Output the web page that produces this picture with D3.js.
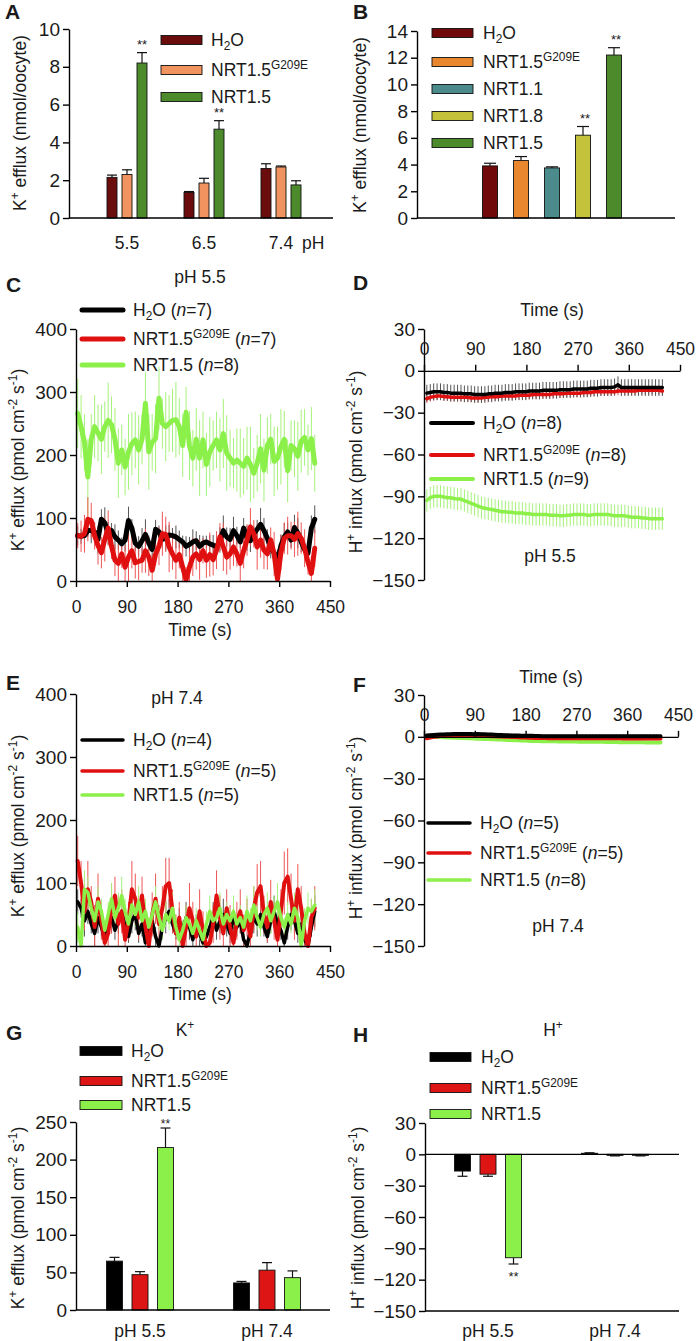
<!DOCTYPE html>
<html><head><meta charset="utf-8">
<script src="https://cdn.jsdelivr.net/npm/d3@7"></script>
<style>
body{margin:0;background:#fff}
text{font-family:"Liberation Sans",Arial,Helvetica,sans-serif;fill:#1a1a1a}
</style></head>
<body><svg id="c" width="697" height="1341"></svg>
<script>
// ================= DATA =================
// Panel A
const phGroupsA = ["5.5","6.5","7.4"];
const aH2O = [2.15,1.35,2.62];   const aH2OErr = [0.12,0.05,0.25];
const aG209E = [2.3,1.85,2.7];   const aG209EErr = [0.25,0.25,0.05];
const aNRT15 = [8.2,4.7,1.75];   const aNRT15Err = [0.55,0.45,0.22];
const aSig = ["**","**",""];
const aTicks = [0,2,4,6,8,10];
// Panel B
const bCats = ["H2O","NRT1.5G209E","NRT1.1","NRT1.8","NRT1.5"];
const bVals = [3.9,4.3,3.75,6.2,12.2];
const bErr = [0.2,0.3,0.08,0.65,0.55];
const bSig = ["","","","**","**"];
const bTicks = [0,2,4,6,8,10,12,14];
// Time series common
const timeTicks = [0,90,180,270,360,450];
const kTicks = [0,100,200,300,400];
const hTicks = [30,0,-30,-60,-90,-120,-150];
// Panel C (pH 5.5, K+), t = 3..423 s every 6 s
const cH2O = [72,71,72,80,80,78,66,98,92,76,80,70,65,59,65,96,84,60,55,64,74,60,50,82,78,66,68,73,72,70,66,62,55,58,62,64,55,60,62,59,57,54,65,80,70,66,80,72,62,84,68,64,75,82,90,80,68,52,45,30,56,70,78,65,85,76,62,50,44,84,98];
const cG209E = [72,71,75,98,96,72,56,45,66,84,55,33,28,43,22,38,48,29,31,33,48,38,17,43,55,75,74,54,43,33,42,22,2,22,38,43,34,48,33,42,34,49,70,54,38,43,54,43,28,48,65,86,75,54,65,49,43,65,43,3,45,68,72,72,66,75,68,52,30,12,52];
const cNRT15 = [266,245,220,165,225,245,235,225,245,255,248,225,187,208,181,205,218,224,208,225,282,205,220,226,290,250,245,250,255,256,245,215,268,215,195,225,195,224,185,205,215,224,208,234,203,195,187,192,187,182,195,185,171,187,210,176,215,225,190,195,213,225,175,215,210,198,222,228,208,226,187];
const cH2OErr = [15,12,18,10,20,14,22,16,25,18,12,20,15,10,18,22,14,12,16,20,24,12,18,15,10,14,20,16,12,18,14,10,16,12,20,15,18,12,10,14,16,12,20,24,15,18,22,14,10,16,20,18,12,15,26,20,14,16,10,20,18,22,15,12,20,24,16,14,18,20,22];
const cG209EErr = [20,25,30,35,28,22,30,25,35,28,20,25,30,22,35,40,28,25,30,20,35,30,25,18,30,35,28,40,25,30,22,35,20,28,30,25,32,20,28,35,25,30,22,38,28,25,30,20,35,28,25,30,22,36,28,30,25,20,35,40,28,25,30,22,28,35,25,30,20,28,30];
const cNRT15Err = [55,50,45,60,40,50,45,55,40,60,45,50,55,40,45,60,50,45,55,40,50,60,45,55,50,40,55,45,50,60,45,50,40,55,45,50,60,45,50,55,40,45,50,55,60,45,40,50,55,45,50,60,40,45,55,50,45,40,55,50,60,45,50,40,45,55,50,45,40,50,45];
const nC = [7,7,8];
// Panel D (pH 5.5, H+), t = 5..419 s every 6 s
const dH2O = [-16,-15.5,-15,-15,-15,-15.5,-15.5,-16,-16,-16,-16,-16.5,-16.5,-16.5,-17,-17,-17,-17,-16.5,-16.5,-16,-16,-16,-15.5,-15.5,-15.5,-15,-15,-15,-15,-14.5,-14.5,-14.5,-14.5,-14,-14,-14,-14,-14,-13.5,-13.5,-13.5,-13.5,-13,-13,-13,-13,-13,-12.5,-12.5,-12.5,-12,-12,-12,-12,-11.5,-10,-12,-12,-12,-12,-12,-12,-12,-12,-12,-12,-12,-12,-12];
const dG209E = [-20,-19,-18.5,-18,-18,-18.5,-18.5,-19,-19,-19,-19,-19,-19,-19.5,-19.5,-19.5,-19.5,-19,-19,-18.5,-18.5,-18.5,-18,-18,-18,-18,-18,-17.5,-17.5,-17.5,-17.5,-17,-17,-17,-17,-17,-17,-16.5,-16.5,-16.5,-16.5,-16,-16,-16,-16,-16,-15.5,-15.5,-15.5,-15,-15,-15,-15,-15,-15,-15,-14.5,-14.5,-14.5,-14.5,-14.5,-14.5,-14,-14,-14,-14,-14,-14,-14,-14.5];
const dNRT15 = [-93,-91,-90,-90,-90,-90.5,-91,-91,-91.5,-92,-92,-93,-94,-95,-96,-97,-98,-98.5,-99,-99.5,-100,-100.5,-101,-101,-101.5,-101.5,-102,-102,-102,-102.5,-102.5,-103,-103,-103,-103,-103,-103.5,-103.5,-103.5,-104,-104,-103.5,-103.5,-103,-103,-103,-103,-103.5,-103.5,-103,-103,-103,-103,-103,-103.5,-104,-104,-104,-104,-104.5,-105,-105,-105,-105.5,-105.5,-106,-106,-106,-106,-106];
const dErr = [6,3,8];
const nD = [8,8,9];
// Panel E (pH 7.4, K+), t = 3..423 s every 6 s
const eH2O = [70,60,40,55,35,20,45,30,10,35,45,25,40,55,30,15,40,50,20,35,5,25,40,15,0,30,45,55,35,20,40,25,45,30,10,35,20,5,15,30,45,25,40,50,35,20,45,30,40,10,0,25,45,35,50,30,15,40,55,35,25,5,30,50,40,20,35,10,0,30,55];
const eG209E = [135,100,55,90,70,30,75,40,5,20,60,80,35,55,10,40,90,75,45,80,30,0,50,75,35,60,95,100,55,20,45,0,30,60,40,15,55,25,0,5,35,80,45,20,60,30,5,40,55,25,45,15,60,85,95,50,30,70,40,10,55,100,110,75,40,90,60,20,0,45,60];
const eNRT15 = [30,0,90,85,60,40,70,55,25,50,75,45,60,80,55,35,65,50,70,40,55,30,50,70,45,25,50,40,60,30,10,25,45,35,20,40,25,10,35,55,40,45,60,35,50,40,55,35,45,30,55,40,65,45,30,50,60,40,55,70,45,30,50,35,60,45,0,40,60,55,65];
const eH2OErr = [20,15,25,20,15,20,25,15,10,20,25,15,20,25,15,10,20,25,15,20,10,15,20,15,10,20,25,20,15,10,20,15,25,20,10,15,20,10,15,20,25,15,20,25,20,15,20,15,20,10,10,15,25,20,25,15,10,20,25,20,15,10,20,25,20,15,20,10,10,15,25];
const eG209EErr = [40,35,30,45,25,35,40,30,25,35,40,30,45,35,25,30,45,40,35,30,25,20,35,40,30,35,45,40,35,30,25,20,35,40,30,25,35,30,20,25,30,40,35,25,30,35,20,30,35,25,30,25,35,45,40,30,25,35,30,25,35,50,45,40,30,40,35,25,20,30,35];
const eNRT15Err = [25,20,30,25,20,15,25,20,15,20,25,20,25,30,20,15,25,20,25,15,20,15,20,25,20,15,20,15,25,15,10,15,20,15,10,20,15,10,20,25,20,20,25,15,20,20,25,15,20,15,25,20,30,20,15,20,25,20,25,30,20,15,20,15,25,20,10,20,25,20,25];
const nE = [4,5,5];
// Panel F (pH 7.4, H+), t = 5..419 s every 6 s
const fH2O = [1,1.2,1.4,1.5,1.6,1.7,1.8,1.9,2,2,2.1,2,2,2,1.9,2,1.9,1.8,1.7,1.6,1.5,1.4,1.3,1.2,1.1,1,1,0.9,0.8,0.8,0.7,0.7,0.6,0.6,0.5,0.5,0.5,0.5,0.4,0.4,0.4,0.4,0.4,0.4,0.4,0.4,0.5,0.5,0.5,0.5,0.5,0.5,0.5,0.5,0.5,0.5,0.5,0.5,0.5,0.5,0.5,0.5,0.5,0.5,0.5,0.5,0.5,0.5,0.5,0.5];
const fG209E = [-1,-0.5,0,0.3,0.6,0.8,1,1.1,1.2,1.2,1.2,1.2,1.1,1,1,0.9,0.8,0.7,0.6,0.5,0.4,0.3,0.2,0.1,0,-0.1,-0.2,-0.3,-0.4,-0.5,-0.6,-0.7,-0.8,-0.8,-0.9,-0.9,-1,-1,-1,-1,-1.1,-1.1,-1.1,-1.1,-1.1,-1.1,-1.1,-1.1,-1.1,-1.1,-1.1,-1.1,-1.1,-1.1,-1.1,-1.1,-1.1,-1.1,-1.2,-1.2,-1.2,-1.2,-1.2,-1.2,-1.2,-1.2,-1.2,-1.2,-1.2,-1.2];
const fNRT15 = [0,0,0,-0.1,-0.2,-0.3,-0.4,-0.5,-0.6,-0.7,-0.8,-0.9,-1,-1.1,-1.2,-1.3,-1.4,-1.5,-1.6,-1.7,-1.8,-1.9,-2,-2.1,-2.2,-2.3,-2.4,-2.5,-2.6,-2.7,-2.8,-2.9,-3,-3,-3.1,-3.1,-3.2,-3.2,-3.2,-3.3,-3.3,-3.3,-3.4,-3.4,-3.4,-3.5,-3.5,-3.5,-3.5,-3.6,-3.6,-3.6,-3.6,-3.7,-3.7,-3.7,-3.7,-3.8,-3.8,-3.8,-3.8,-3.9,-3.9,-3.9,-3.9,-4,-4,-4,-4,-4];
const fErr = [1.2,1,1.2];
const nF = [5,5,8];
// Panel G (K+ mean flux)
const phGroupsGH = ["pH 5.5","pH 7.4"];
const gH2O = [65,36];   const gH2OErr = [5,2];
const gG209E = [47,53]; const gG209EErr = [4,10];
const gNRT15 = [216,43]; const gNRT15Err = [26,9];
const gSig = ["**",""];
const gTicks = [0,50,100,150,200,250];
// Panel H (H+ mean flux)
const hH2O = [-16,1];   const hH2OErr = [5,0.5];
const hG209E = [-19,-1]; const hG209EErr = [2,0.5];
const hNRT15 = [-99,-1]; const hNRT15Err = [6,0.5];
const hSig = ["**",""];

// ================= HELPERS =================
const svg = d3.select("#c");
const FONT = "'Liberation Sans', Arial, Helvetica, sans-serif";
const TXT = "#1a1a1a";
const LF = 17.5;   // legend / label font
const YF = 19;     // y tick font
const XF = 17.5;   // x tick font

function rich(g, x, y, parts, size, anchor){
  const t = g.append("text").attr("x",x).attr("y",y).attr("font-size",size)
    .attr("text-anchor",anchor||"start");
  let shift = 0;
  parts.forEach(p=>{
    const s = p[0], type = p[1]||"";
    let target = 0, fs = size;
    if(type==="sup"){ target = -size*0.42; fs = size*0.68; }
    if(type==="sub"){ target = size*0.22; fs = size*0.68; }
    const ts = t.append("tspan").text(s).attr("dy", (target-shift).toFixed(2));
    if(fs!==size) ts.attr("font-size", fs.toFixed(2));
    if(type==="it") ts.attr("font-style","italic");
    shift = target;
  });
  return t;
}
function vtitle(cx, cy, parts, size){
  const g = svg.append("g").attr("transform",`translate(${cx},${cy}) rotate(-90)`);
  rich(g,0,0,parts,size||LF,"middle");
}
function styleAxis(g, fs){
  g.attr("font-family",FONT).attr("font-size",fs);
  g.selectAll("path.domain").attr("stroke","#000").attr("stroke-width",1.4);
  g.selectAll(".tick line").attr("stroke","#000").attr("stroke-width",1.4);
  g.selectAll(".tick text").attr("fill",TXT);
}
function hline(x1,x2,y){ svg.append("line").attr("x1",x1).attr("x2",x2).attr("y1",y).attr("y2",y).attr("stroke","#000").attr("stroke-width",1.4); }
function label(x,y,s,size,opts){
  const t = svg.append("text").attr("x",x).attr("y",y).attr("font-size",size).text(s);
  if(opts&&opts.bold) t.attr("font-weight","bold");
  if(opts&&opts.anchor) t.attr("text-anchor",opts.anchor);
  return t;
}
function bar(g, cx, w, v, e, y, fill, capW){
  const y0 = y(0), y1 = y(v);
  g.append("rect").attr("x",cx-w/2).attr("y",Math.min(y0,y1)).attr("width",w)
    .attr("height",Math.max(0.8,Math.abs(y1-y0))).attr("fill",fill)
    .attr("stroke","#111").attr("stroke-width",0.9);
  if(e>0){
    const ye = y(v + (v>=0?e:-e));
    g.append("line").attr("x1",cx).attr("x2",cx).attr("y1",y1).attr("y2",ye).attr("stroke","#111").attr("stroke-width",1.2);
    g.append("line").attr("x1",cx-capW/2).attr("x2",cx+capW/2).attr("y1",ye).attr("y2",ye).attr("stroke","#111").attr("stroke-width",1.2);
  }
}
const lblH2O = [["H"],["2","sub"],["O"]];
const lblG209E = [["NRT1.5"],["G209E","sup"]];
const lblNRT15 = [["NRT1.5"]];
const withN = (parts,n)=>parts.concat([[" ("],["n","it"],["="+n+")"]]);
const kTitleNmol = [["K"],["+","sup"],[" efflux (nmol/oocyte)"]];
const kTitlePmol = [["K"],["+","sup"],[" efflux (pmol cm"],["-2","sup"],[" s"],["-1","sup"],[")"]];
const hTitlePmol = [["H"],["+","sup"],[" influx (pmol cm"],["-2","sup"],[" s"],["-1","sup"],[")"]];

// ================= PANEL A =================
(function(){
  const cols = ["#6b0d0d","#f0935e","#4c8a2c"];
  const vals = [aH2O,aG209E,aNRT15], errs = [aH2OErr,aG209EErr,aNRT15Err];
  const x = d3.scalePoint().domain(phGroupsA).range([127,281]);
  const off = d3.scalePoint().domain([0,1,2]).range([-15,15]);
  const y = d3.scaleLinear().domain([0,10]).range([218,29]);
  const g = svg.append("g");
  phGroupsA.forEach((p,i)=>{
    vals.forEach((s,si)=> bar(g, x(p)+off(si), 10, s[i], errs[si][i], y, cols[si], 10));
    if(aSig[i]) label(x(p)+off(2), y(aNRT15[i]+aNRT15Err[i])-4, aSig[i], 13, {anchor:"middle"});
    label(x(p), 249, p, XF, {anchor:"middle"});
  });
  label(302, 249, "pH", XF);
  const ya = svg.append("g").attr("transform","translate(69,0)")
    .call(d3.axisLeft(y).tickValues(aTicks).tickSize(6).tickPadding(3).tickSizeOuter(0));
  styleAxis(ya, YF);
  hline(69,333,218);
  vtitle(26,123,kTitleNmol,LF);
  label(5,19,"A",21,{bold:true});
  const legs = [lblH2O,lblG209E,lblNRT15], ly = [40,70,97];
  legs.forEach((l,i)=>{
    svg.append("rect").attr("x",161).attr("y",ly[i]-4.5).attr("width",41).attr("height",9)
      .attr("fill",cols[i]).attr("stroke","#111").attr("stroke-width",0.9);
    rich(svg,211,ly[i]+6,l,LF);
  });
})();

// ================= PANEL B =================
(function(){
  const cols = ["#700a0a","#e9872e","#4b8b8b","#c3c23a","#4d8a2b"];
  const x = d3.scalePoint().domain(bCats).range([490,614]);
  const y = d3.scaleLinear().domain([0,14]).range([218,31]);
  const g = svg.append("g");
  bCats.forEach((c,i)=>{
    bar(g, x(c), 15, bVals[i], bErr[i], y, cols[i], 12);
    if(bSig[i]) label(x(c)+2, y(bVals[i]+bErr[i])-4, bSig[i], 13, {anchor:"middle"});
  });
  const ya = svg.append("g").attr("transform","translate(417,0)")
    .call(d3.axisLeft(y).tickValues(bTicks).tickSize(6).tickPadding(3).tickSizeOuter(0));
  styleAxis(ya, YF);
  hline(417,675,218);
  vtitle(366,125,kTitleNmol,LF);
  label(353,19,"B",21,{bold:true});
  const legs = [lblH2O,lblG209E,[["NRT1.1"]],[["NRT1.8"]],lblNRT15], ly=[33,62,89,116,143];
  legs.forEach((l,i)=>{
    svg.append("rect").attr("x",432).attr("y",ly[i]-4.5).attr("width",41).attr("height",9)
      .attr("fill",cols[i]).attr("stroke","#111").attr("stroke-width",0.9);
    rich(svg,483,ly[i]+6,l,LF);
  });
})();

// ================= TIME SERIES HELPER =================
function series(g, x, y, t0, step, vals, errs, color, errColor, lw){
  const lo = y.domain()[0], hi = y.domain()[1];
  const eg = g.append("g");
  vals.forEach((v,i)=>{
    const e = Array.isArray(errs) ? (errs[i]||0) : errs;
    const t = t0 + i*step;
    eg.append("line").attr("x1",x(t)).attr("x2",x(t))
      .attr("y1",y(Math.max(lo,v-e))).attr("y2",y(Math.min(hi,v+e)))
      .attr("stroke",errColor).attr("stroke-width",1);
  });
  return ()=>g.append("path").datum(vals)
    .attr("d",d3.line().x((d,i)=>x(t0+i*step)).y(d=>y(d)))
    .attr("fill","none").attr("stroke",color).attr("stroke-width",lw)
    .attr("stroke-linejoin","round").attr("stroke-linecap","round");
}
const LC = ["#000000","#e01010","#8cf04a"];
const EC = ["#555555","#ee5555","#a6f27a"];

// ================= PANEL C =================
(function(){
  const x = d3.scaleLinear().domain([0,450]).range([76,330]);
  const y = d3.scaleLinear().domain([0,400]).range([581,329]);
  const g = svg.append("g");
  const dG = series(g,x,y,3,6,cNRT15,cNRT15Err,LC[2],EC[2],5);
  const dB = series(g,x,y,3,6,cH2O,cH2OErr,LC[0],EC[0],5);
  const dR = series(g,x,y,3,6,cG209E,cG209EErr,LC[1],EC[1],5);
  dG(); dB(); dR();
  const ya = svg.append("g").attr("transform","translate(76,0)")
    .call(d3.axisLeft(y).tickValues(kTicks).tickSize(6).tickPadding(3).tickSizeOuter(0));
  styleAxis(ya, YF);
  const xa = svg.append("g").attr("transform","translate(0,581)")
    .call(d3.axisBottom(x).tickValues(timeTicks).tickSize(6).tickPadding(14).tickSizeOuter(0));
  styleAxis(xa, XF);
  label(200,636,"Time (s)",LF,{anchor:"middle"});
  label(200,283,"pH 5.5",LF,{anchor:"middle"});
  vtitle(24,460,kTitlePmol,LF);
  label(6,292,"C",21,{bold:true});
  const legs=[lblH2O,lblG209E,lblNRT15], ly=[310,339,365];
  legs.forEach((l,i)=>{
    svg.append("line").attr("x1",82).attr("x2",123).attr("y1",ly[i]).attr("y2",ly[i])
      .attr("stroke",LC[i]).attr("stroke-width",5).attr("stroke-linecap","round");
    rich(svg,133,ly[i]+6,withN(l,nC[i]),LF);
  });
})();

// ================= PANEL D =================
(function(){
  const x = d3.scaleLinear().domain([0,450]).range([424,680]);
  const y = d3.scaleLinear().domain([-150,30]).range([580,329]);
  const g = svg.append("g");
  const dG = series(g,x,y,5,6,dNRT15,dErr[2],LC[2],EC[2],3.5);
  const dR = series(g,x,y,5,6,dG209E,dErr[1],LC[1],EC[1],3.5);
  const dB = series(g,x,y,5,6,dH2O,dErr[0],LC[0],EC[0],3.5);
  dG(); dR(); dB();
  const ya = svg.append("g").attr("transform","translate(424,0)")
    .call(d3.axisLeft(y).tickValues(hTicks).tickSize(6).tickPadding(3).tickSizeOuter(0));
  styleAxis(ya, YF);
  const xa = svg.append("g").attr("transform",`translate(0,${y(0)})`)
    .call(d3.axisTop(x).tickValues(timeTicks).tickSize(6).tickPadding(10).tickSizeOuter(0));
  styleAxis(xa, XF);
  label(552,316,"Time (s)",LF,{anchor:"middle"});
  label(550,562,"pH 5.5",LF,{anchor:"middle"});
  vtitle(362,462,hTitlePmol,LF);
  label(353,290,"D",21,{bold:true});
  const legs=[lblH2O,lblG209E,lblNRT15], ly=[423,455,479];
  legs.forEach((l,i)=>{
    svg.append("line").attr("x1",431).attr("x2",473).attr("y1",ly[i]).attr("y2",ly[i])
      .attr("stroke",LC[i]).attr("stroke-width",4).attr("stroke-linecap","round");
    rich(svg,483,ly[i]+6,withN(l,nD[i]),LF);
  });
})();

// ================= PANEL E =================
(function(){
  const x = d3.scaleLinear().domain([0,450]).range([76,330]);
  const y = d3.scaleLinear().domain([0,400]).range([946,694]);
  const g = svg.append("g");
  const dB = series(g,x,y,3,6,eH2O,eH2OErr,LC[0],EC[0],3.5);
  const dR = series(g,x,y,3,6,eG209E,eG209EErr,LC[1],EC[1],4);
  const dG = series(g,x,y,3,6,eNRT15,eNRT15Err,LC[2],EC[2],3.5);
  dB(); dR(); dG();
  const ya = svg.append("g").attr("transform","translate(76,0)")
    .call(d3.axisLeft(y).tickValues(kTicks).tickSize(6).tickPadding(3).tickSizeOuter(0));
  styleAxis(ya, YF);
  const xa = svg.append("g").attr("transform","translate(0,946)")
    .call(d3.axisBottom(x).tickValues(timeTicks).tickSize(6).tickPadding(14).tickSizeOuter(0));
  styleAxis(xa, XF);
  label(200,1000,"Time (s)",LF,{anchor:"middle"});
  label(177,704,"pH 7.4",LF,{anchor:"middle"});
  vtitle(24,826,kTitlePmol,LF);
  label(6,690,"E",21,{bold:true});
  const legs=[lblH2O,lblG209E,lblNRT15], ly=[740,771,795];
  legs.forEach((l,i)=>{
    svg.append("line").attr("x1",82).attr("x2",123).attr("y1",ly[i]).attr("y2",ly[i])
      .attr("stroke",LC[i]).attr("stroke-width",3.5).attr("stroke-linecap","round");
    rich(svg,133,ly[i]+6,withN(l,nE[i]),LF);
  });
})();

// ================= PANEL F =================
(function(){
  const x = d3.scaleLinear().domain([0,450]).range([424,678]);
  const y = d3.scaleLinear().domain([-150,30]).range([946,695]);
  const g = svg.append("g");
  const dG = series(g,x,y,5,6,fNRT15,fErr[2],LC[2],EC[2],4);
  const dR = series(g,x,y,5,6,fG209E,fErr[1],LC[1],EC[1],4);
  const dB = series(g,x,y,5,6,fH2O,fErr[0],LC[0],EC[0],4);
  dG(); dR(); dB();
  const ya = svg.append("g").attr("transform","translate(424,0)")
    .call(d3.axisLeft(y).tickValues(hTicks).tickSize(6).tickPadding(3).tickSizeOuter(0));
  styleAxis(ya, YF);
  const xa = svg.append("g").attr("transform",`translate(0,${y(0)})`)
    .call(d3.axisTop(x).tickValues(timeTicks).tickSize(6).tickPadding(10).tickSizeOuter(0));
  styleAxis(xa, XF);
  label(551,683,"Time (s)",LF,{anchor:"middle"});
  label(558,932,"pH 7.4",LF,{anchor:"middle"});
  vtitle(362,828,hTitlePmol,LF);
  label(353,692,"F",21,{bold:true});
  const legs=[lblH2O,lblG209E,lblNRT15], ly=[823,853,880];
  legs.forEach((l,i)=>{
    svg.append("line").attr("x1",428).attr("x2",470).attr("y1",ly[i]).attr("y2",ly[i])
      .attr("stroke",LC[i]).attr("stroke-width",3.5).attr("stroke-linecap","round");
    rich(svg,480,ly[i]+6,withN(l,nF[i]),LF);
  });
})();

// ================= PANEL G =================
const BC = ["#000000","#dd1515","#8cf04a"];
(function(){
  const vals=[gH2O,gG209E,gNRT15], errs=[gH2OErr,gG209EErr,gNRT15Err];
  const x = d3.scalePoint().domain(phGroupsGH).range([140,267]);
  const off = d3.scalePoint().domain([0,1,2]).range([-25.5,25.5]);
  const y = d3.scaleLinear().domain([0,250]).range([1310,1122]);
  const g = svg.append("g");
  phGroupsGH.forEach((p,i)=>{
    vals.forEach((s,si)=> bar(g, x(p)+off(si), 16, s[i], errs[si][i], y, BC[si], 10));
    if(gSig[i]) label(x(p)+off(2), y(gNRT15[i]+gNRT15Err[i]), gSig[i], 12, {anchor:"middle"});
    label(x(p), 1337, p, XF, {anchor:"middle"});
  });
  const ya = svg.append("g").attr("transform","translate(76,0)")
    .call(d3.axisLeft(y).tickValues(gTicks).tickSize(6).tickPadding(3).tickSizeOuter(0));
  styleAxis(ya, YF);
  hline(76,330,1310);
  vtitle(24,1218,kTitlePmol,LF);
  label(6,1040,"G",21,{bold:true});
  rich(svg,185,1036,[["K"],["+","sup"]],LF,"middle");
  const legs=[lblH2O,lblG209E,lblNRT15], ly=[1051,1081,1105];
  legs.forEach((l,i)=>{
    svg.append("rect").attr("x",80).attr("y",ly[i]-4.5).attr("width",42).attr("height",9)
      .attr("fill",BC[i]).attr("stroke","#111").attr("stroke-width",0.9);
    rich(svg,131,ly[i]+6,l,LF);
  });
})();

// ================= PANEL H =================
(function(){
  const vals=[hH2O,hG209E,hNRT15], errs=[hH2OErr,hG209EErr,hNRT15Err];
  const x = d3.scalePoint().domain(phGroupsGH).range([488,615]);
  const off = d3.scalePoint().domain([0,1,2]).range([-25.5,25.5]);
  const y = d3.scaleLinear().domain([-150,30]).range([1311,1123]);
  const g = svg.append("g");
  phGroupsGH.forEach((p,i)=>{
    vals.forEach((s,si)=> bar(g, x(p)+off(si), 16, s[i], errs[si][i], y, BC[si], 10));
    if(hSig[i]) label(x(p)+off(2), y(hNRT15[i]-hNRT15Err[i])+17, hSig[i], 13, {anchor:"middle"});
    label(x(p), 1337, p, XF, {anchor:"middle"});
  });
  const ya = svg.append("g").attr("transform","translate(425,0)")
    .call(d3.axisLeft(y).tickValues(hTicks).tickSize(6).tickPadding(3).tickSizeOuter(0));
  styleAxis(ya, YF);
  hline(425,679,y(0));
  hline(425,679,1311);
  vtitle(364,1218,hTitlePmol,LF);
  label(353,1042,"H",21,{bold:true});
  rich(svg,553,1036,[["H"],["+","sup"]],LF,"middle");
  const legs=[lblH2O,lblG209E,lblNRT15], ly=[1057,1088,1114];
  legs.forEach((l,i)=>{
    svg.append("rect").attr("x",430).attr("y",ly[i]-4.5).attr("width",41).attr("height",9)
      .attr("fill",BC[i]).attr("stroke","#111").attr("stroke-width",0.9);
    rich(svg,481,ly[i]+6,l,LF);
  });
})();
</script></body></html>
